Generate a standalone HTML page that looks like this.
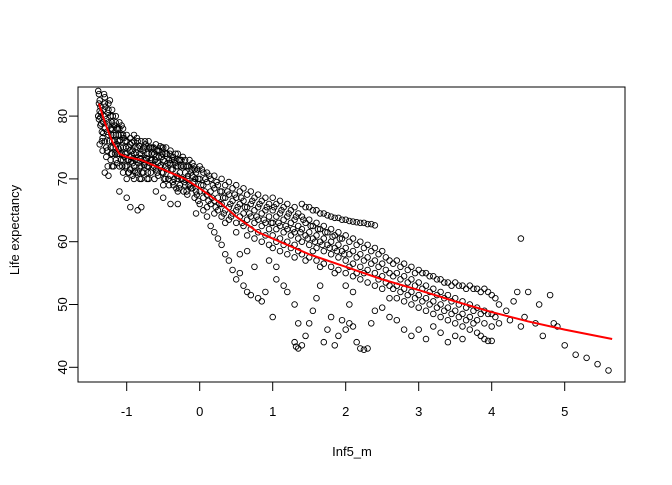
<!DOCTYPE html>
<html><head><meta charset="utf-8"><style>
body{margin:0;background:#fff}
svg text{font-family:"Liberation Sans",Arial,sans-serif;font-size:13px;fill:#000}
</style></head><body>
<svg id="chart" width="672" height="480">
<g id="points"></g>
<g id="axes"></g>
</svg>
<script>
const xTicks=[-1,0,1,2,3,4,5];
const yTicks=[40,50,60,70,80];
const pts=[
[-1.38,83.5],[-1.37,82.5],[-1.36,81.5],[-1.35,80.5],[-1.38,79.5],[-1.36,78.5],[-1.34,77.5],[-1.33,76.5],[-1.39,80],[-1.37,75.5],
[-1.3,83],[-1.3,82],[-1.3,80],[-1.3,78],[-1.3,76],[-1.28,75],[-1.32,81],[-1.32,79],[-1.28,73.5],[-1.26,72],
[-1.25,82],[-1.25,81],[-1.25,79],[-1.25,77],[-1.22,75],[-1.22,80],[-1.22,78],[-1.22,73],
[-1.2,81],[-1.2,79],[-1.2,78],[-1.2,76],[-1.2,74],[-1.18,77],[-1.18,72],
[-1.15,80],[-1.15,79],[-1.15,77],[-1.15,75],[-1.15,73],[-1.12,78],[-1.12,76],[-1.12,74],
[-1.1,79],[-1.1,78],[-1.1,76],[-1.1,74],[-1.1,72],[-1.08,77],[-1.08,75],[-1.08,73],
[-1.05,78],[-1.05,77],[-1.05,75],[-1.05,73],[-1.05,71],[-1.02,76],[-1.02,74],[-1.02,72],
[-1,77],[-1,76],[-1,74],[-1,72],[-1,70],[-0.97,75],[-0.97,73],[-0.97,71],
[-0.95,76.5],[-0.95,75.5],[-0.95,73.5],[-0.95,71.5],[-0.92,74.5],[-0.92,72.5],[-0.92,70.5],
[-0.9,77],[-0.9,76],[-0.9,74],[-0.9,72],[-0.9,70],[-0.88,75],[-0.88,73],[-0.88,71],
[-0.85,76],[-0.85,75],[-0.85,73],[-0.85,71],[-0.82,74],[-0.82,72],[-0.82,70],
[-0.8,76],[-0.8,74],[-0.8,72],[-0.8,70],[-0.77,75],[-0.77,73],[-0.77,71],
[-0.75,76],[-0.75,75],[-0.75,73],[-0.72,74],[-0.72,72],[-0.72,70],
[-0.7,76],[-0.7,74],[-0.7,72],[-0.7,70],[-0.67,75],[-0.67,73],[-0.67,71],
[-0.65,75],[-0.65,73],[-0.62,74],[-0.62,72],[-0.62,70],
[-0.6,75.5],[-0.6,73.5],[-0.6,71.5],[-0.57,74.5],[-0.57,72.5],[-0.57,70.5],
[-0.55,74.5],[-0.55,72],[-0.52,75],[-0.52,73.5],[-0.52,71],
[-0.5,75],[-0.5,73],[-0.5,71],[-0.5,69],[-0.47,74],[-0.47,72],[-0.47,70],
[-0.45,74],[-0.45,71.5],[-0.42,73],[-0.42,69],
[-0.4,74.5],[-0.4,72.5],[-0.4,70.5],[-0.37,73.5],[-0.37,71.5],[-0.37,69.5],
[-0.35,73],[-0.35,70],[-0.32,72],[-0.32,68.5],
[-0.3,74],[-0.3,72],[-0.3,70],[-0.3,68],[-0.27,73],[-0.27,71],[-0.27,69],
[-0.25,73],[-0.25,70],[-0.22,72],[-0.22,68],
[-0.2,73],[-0.2,71],[-0.2,69],[-0.17,72],[-0.17,70],[-0.17,67.5],
[-0.15,72],[-0.15,69],[-0.12,71],[-0.12,68.5],
[-0.1,72.5],[-0.1,70.5],[-0.1,68.5],[-0.07,71.5],[-0.07,69.5],[-0.07,67],
[-0.05,71],[-0.05,68],[-0.02,70],[-0.02,66.5],
[0,72],[0,70],[0,68],[0,66],[0.05,71],[0.05,69],[0.05,67],[0.05,65],
[0.1,71],[0.1,69.5],[0.1,67.5],[0.1,65.5],[0.1,64],[0.15,70],[0.15,68],[0.15,66],
[0.2,70.5],[0.2,68.5],[0.2,66.5],[0.2,64.5],[0.25,69],[0.25,67],[0.25,65],
[0.3,70],[0.3,68],[0.3,66],[0.3,64],[0.35,69],[0.35,67],[0.35,65],[0.35,63],
[0.4,69.5],[0.4,67.5],[0.4,65.5],[0.4,63.5],[0.45,68.5],[0.45,66.5],[0.45,64.5],
[0.5,69],[0.5,67],[0.5,65],[0.5,63],[0.5,61.5],[0.55,68],[0.55,66],[0.55,64],
[0.6,68.5],[0.6,66.5],[0.6,64.5],[0.6,62.5],[0.65,67.5],[0.65,65.5],[0.65,63.5],[0.65,61],
[0.7,68],[0.7,66],[0.7,64],[0.7,62],[0.75,67],[0.75,65],[0.75,63],[0.75,60.5],
[0.8,67.5],[0.8,65.5],[0.8,63.5],[0.8,61.5],[0.85,66.5],[0.85,64.5],[0.85,62.5],[0.85,60],
[0.9,67],[0.9,65],[0.9,63],[0.9,61],[0.95,66],[0.95,64],[0.95,62],[0.95,59.5],
[1,67],[1,65],[1,63],[1,61],[1,59],[1.05,66],[1.05,64],[1.05,62],[1.05,60],
[1.1,66.5],[1.1,64.5],[1.1,62.5],[1.1,60.5],[1.1,58.5],[1.15,65.5],[1.15,63.5],[1.15,61.5],[1.15,59.5],
[1.2,66],[1.2,64],[1.2,62],[1.2,60],[1.2,58],[1.25,65],[1.25,63],[1.25,61],[1.25,59],
[1.3,65.5],[1.3,63.5],[1.3,61.5],[1.3,59.5],[1.3,57.5],[1.35,64.5],[1.35,62.5],[1.35,60.5],[1.35,58.5],
[1.4,66],[1.4,64],[1.4,62],[1.4,60],[1.4,58],[1.45,65.5],[1.45,63],[1.45,61],[1.45,57],
[1.5,65.5],[1.5,63.5],[1.5,61.5],[1.5,59.5],[1.5,57.5],[1.55,65],[1.55,62.5],[1.55,60.5],[1.55,58.5],
[1.6,65],[1.6,63],[1.6,61],[1.6,59],[1.6,57],[1.65,64.5],[1.65,62],[1.65,60],[1.65,56],
[1.7,64.5],[1.7,62.5],[1.7,60.5],[1.7,58.5],[1.7,56.5],[1.75,64.2],[1.75,61.5],[1.75,59.5],
[1.8,64],[1.8,62],[1.8,60],[1.8,58],[1.8,56],[1.85,63.8],[1.85,61],[1.85,59],[1.85,55],
[1.9,63.8],[1.9,61.5],[1.9,59.5],[1.9,57.5],[1.9,55.5],[1.95,63.5],[1.95,60.5],[1.95,58.5],
[2,63.5],[2,61],[2,59],[2,57],[2,55],[2,53],[2.05,63.3],[2.05,60],[2.05,58],[2.05,56],
[2.1,63.2],[2.1,60.5],[2.1,58.5],[2.1,56.5],[2.1,54.5],[2.15,63.1],[2.15,59.5],[2.15,57.5],[2.15,55],
[2.2,63],[2.2,60],[2.2,58],[2.2,56],[2.2,54],[2.25,63],[2.25,59],[2.25,57],[2.25,55],
[2.3,62.8],[2.3,59.5],[2.3,57.5],[2.3,55.5],[2.3,53.5],[2.35,62.8],[2.35,58.5],[2.35,56.5],
[2.4,62.6],[2.4,59],[2.4,57],[2.4,55],[2.4,53],[2.45,58],[2.45,56],[2.45,54],
[2.5,58.5],[2.5,56.5],[2.5,54.5],[2.5,52.5],[2.55,57.5],[2.55,55.5],[2.55,53.5],
[2.6,57],[2.6,55],[2.6,53],[2.6,51],[2.65,56.5],[2.65,54.5],[2.65,52.5],
[2.7,57],[2.7,55],[2.7,53],[2.7,51],[2.75,56],[2.75,54],[2.75,52],
[2.8,56.5],[2.8,54.5],[2.8,52.5],[2.8,50.5],[2.85,55.5],[2.85,53.5],[2.85,51.5],
[2.9,56],[2.9,54],[2.9,52],[2.9,50],[2.95,55],[2.95,53],[2.95,51],
[3,55.5],[3,53.5],[3,51.5],[3,49.5],[3.05,55],[3.05,52.5],[3.05,50.5],
[3.1,55],[3.1,53],[3.1,51],[3.1,49],[3.15,54.5],[3.15,52],[3.15,50],
[3.2,54.5],[3.2,52.5],[3.2,50.5],[3.2,48.5],[3.25,54],[3.25,51.5],[3.25,49.5],
[3.3,54],[3.3,52],[3.3,50],[3.3,48],[3.35,53.5],[3.35,51],[3.35,49],
[3.4,53.5],[3.4,51.5],[3.4,49.5],[3.4,47.5],[3.45,53],[3.45,50.5],[3.45,48.5],
[3.5,53.5],[3.5,51],[3.5,49],[3.5,47],[3.55,53],[3.55,50],[3.55,48],
[3.6,53],[3.6,50.5],[3.6,48.5],[3.6,46.5],[3.65,52.5],[3.65,49.5],[3.65,47.5],
[3.7,53],[3.7,50],[3.7,48],[3.7,46],[3.75,52.5],[3.75,49],[3.75,47],
[3.8,52.5],[3.8,49.5],[3.8,47.5],[3.8,45.5],[3.85,52],[3.85,48.5],[3.85,45],
[3.9,52.5],[3.9,49],[3.9,47],[3.9,44.5],[3.95,52],[3.95,48.5],[3.95,44.2],
[4,51.5],[4,48.5],[4,46.5],[4,44.2],[4.05,51],[4.05,48],[4.1,50],[4.1,47],
[4.2,49],[4.25,47.5],[4.3,50.5],[4.35,52],[4.4,60.5],[4.4,46.5],[4.45,48],[4.5,52],[4.6,47],[4.65,50],[4.7,45],
[4.8,51.5],[4.85,47],[4.9,46.5],[5,43.5],[5.15,42],[5.3,41.5],[5.45,40.5],[5.6,39.5],
[-1.3,71],[-1.25,70.5],[-1.1,68],[-1,67],[-0.95,65.5],[-0.85,65],[-0.8,65.5],[-1.2,72],[-0.6,68],[-0.5,67],
[-0.4,66],[-0.3,66],[-0.05,64.5],[0.15,62.5],[0.2,61.5],[0.25,60.5],[0.3,59.5],[0.35,58],[0.4,57],[0.45,55.5],
[0.5,54],[0.55,55],[0.6,53],[0.65,52],[0.7,51.5],[0.75,56],[0.8,51],[0.85,50.5],[0.9,52],[1,48],[0.55,58],[0.65,58.5],
[1.05,54],[1.15,53],[1.2,52],[1.3,50],[1.35,47],[1.3,44],[1.32,43.3],[1.35,43],[1.4,43.5],[1.45,45],[1.5,47],
[1.55,49],[1.6,51],[1.65,53],[1.7,44],[1.75,46],[1.8,48],[1.85,43.5],[1.9,45],[1.95,47.5],[2,46],[2.05,47],
[2.1,46.5],[2.15,44],[2.2,43],[2.25,42.8],[2.3,43],[2.05,50],[2.1,52],[2.35,47],[2.4,49],[2.5,49.5],[2.6,48],
[2.7,47.5],[2.8,46],[2.9,45],[3,46],[3.1,44.5],[3.2,46.5],[3.3,45.5],[3.4,44],[3.5,45],[3.6,44.5],[1.05,56],[0.95,57],
[-1.39,84],[-1.38,82],[-1.37,80.8],[-1.36,79.8],[-1.35,78.8],[-1.34,76],[-1.33,74.5],[-1.32,77.3],[-1.31,83.5],[-1.29,81.5],
[-1.28,79.5],[-1.27,77.5],[-1.27,74.5],[-1.26,80.5],[-1.24,78.5],[-1.24,76],[-1.23,82.5],[-1.21,77],[-1.21,74],[-1.19,80],
[-1.19,75],[-1.17,78.5],[-1.17,76],[-1.16,74],[-1.14,78],[-1.14,75.5],[-1.13,72.5],[-1.11,77],[-1.11,74.8],[-1.09,76.2],
[-1.07,78.5],[-1.07,74],[-1.06,72],[-1.04,76.5],[-1.03,73.5],[-1.01,75],[-0.99,73],[-0.98,71],[-0.96,74.5],[-0.94,72.8],
[-0.93,75.8],[-0.91,73.3],[-0.89,71.3],[-0.87,74.2],[-0.86,76.5],[-0.84,72.5],[-0.83,75.3],[-0.81,73.3],[-0.79,71],[-0.78,74.5],
[-0.76,72.2],[-0.74,75.5],[-0.73,73.3],[-0.71,71],[-0.69,75],[-0.68,72.5],[-0.66,74],[-0.64,71.8],[-0.63,75],[-0.61,73],
[-0.59,74.5],[-0.58,71],[-0.56,73.5],[-0.54,75.2],[-0.53,72.2],[-0.51,74],[-0.49,70],[-0.48,72.8],[-0.46,75],[-0.44,72.5],
[-0.43,70],[-0.41,74],[-0.39,71.5],[-0.38,73],[-0.36,69],[-0.34,72.5],[-0.33,74],[-0.31,70.5],[-0.29,73],[-0.28,68.5],
[-0.26,72],[-0.24,70],[-0.23,73.5],[-0.21,69.5],[-0.19,72],[-0.18,68],[-0.16,70.5],[-0.14,73],[-0.13,68.8],[-0.11,71.5],
[-0.09,69.5],[-0.08,72],[-0.06,70],[-0.04,67.5],[-0.03,71.5],[0.02,69],[0.03,71.5],[0.07,68],[0.08,70],[0.12,66.5],
[0.13,70.5],[0.17,67],[0.18,69],[0.22,65.5],[0.23,69.5],[0.27,66],[0.28,68],[0.32,67],[0.33,64.5],[0.38,68],[0.42,66],
[0.43,64],[0.48,67.5],[0.52,65.5],[0.57,67],[0.58,63],[0.62,65.5],[0.68,64.5],[0.72,66.5],[0.78,64],[0.82,66],[0.88,63.5],
[0.92,65.5],[0.98,63],[1.02,65.5],[1.08,63],[1.12,65],[1.18,62.5],[1.22,64.5],[1.28,62],[1.32,64],[1.38,61.5],[1.42,63.5],
[1.48,60.5],[1.52,62.5],[1.58,60],[1.62,62],[1.68,59.5],[1.72,61.5],[1.78,59],[1.82,60.8],[1.88,58.5],[1.92,60.5],[1.98,58]
];
const loessX=[-1.38,-1.3,-1.2,-1.1,-1.0,-0.8,-0.5,-0.2,0,0.3,0.5,0.8,1,1.5,2,2.5,3,3.5,4,4.5,5,5.65];
const loessY=[82,79,76,74,73.5,73,71.5,70,68.5,66,64,61.5,60.5,58,56,54,52.3,50.5,48.8,47.3,46,44.5];

const NS="http://www.w3.org/2000/svg";
const L=78,R=625,T=87,B=382;
const sx=v=>199.7+v*73;
const sy=v=>367.3-(v-40)*6.28;
const svg=document.getElementById('chart');
const pg=document.getElementById('points');
const ag=document.getElementById('axes');
function mk(tag,attrs,parent){const e=document.createElementNS(NS,tag);for(const k in attrs)e.setAttribute(k,attrs[k]);parent.appendChild(e);return e;}

pts.forEach(p=>{
  const c=mk('circle',{cx:sx(p[0]),cy:sy(p[1]),r:2.8,fill:'none',stroke:'#000','stroke-width':0.9},pg);
  
  
});
const line=mk('polyline',{points:loessX.map((x,i)=>sx(x)+','+sy(loessY[i])).join(' '),fill:'none',stroke:'#ff0000','stroke-width':2},svg);



const box=mk('rect',{x:L,y:T,width:R-L,height:B-T,fill:'none',stroke:'#000','stroke-width':1},ag);


mk('line',{x1:sx(xTicks[0]),x2:sx(xTicks[xTicks.length-1]),y1:B,y2:B,stroke:'#000'},ag);
xTicks.forEach(t=>{
  mk('line',{x1:sx(t),x2:sx(t),y1:B,y2:B+9,stroke:'#000'},ag);
  const tx=mk('text',{x:sx(t),y:416,'text-anchor':'middle'},ag);
  tx.textContent=t;
  
  
});
yTicks.forEach(t=>{
  mk('line',{x1:L-9,x2:L,y1:sy(t),y2:sy(t),stroke:'#000'},ag);
  const tx=mk('text',{x:0,y:0,'text-anchor':'middle',transform:`translate(67,${sy(t)}) rotate(-90)`},ag);
  tx.textContent=t;
  
  
});
const xt=mk('text',{x:352,y:456,'text-anchor':'middle'},ag);
xt.textContent='Inf5_m';


const yt=mk('text',{x:0,y:0,'text-anchor':'middle',transform:'translate(19,230) rotate(-90)'},ag);
yt.textContent='Life expectancy';


</script>
</body></html>
